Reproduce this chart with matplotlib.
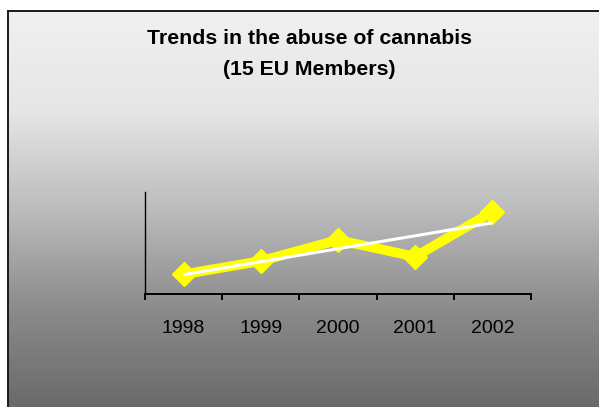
import numpy as np
import matplotlib
matplotlib.use("Agg")
import matplotlib.pyplot as plt
from matplotlib.colors import LinearSegmentedColormap
from matplotlib.lines import Line2D

# ---- data ----
years = ["1998", "1999", "2000", "2001", "2002"]
abuse = [1.92, 3.22, 5.27, 3.64, 8.03]
title_line1 = "Trends in the abuse of cannabis"
title_line2 = "(15 EU Members)"

W, H = 599, 407
fig = plt.figure(figsize=(W / 100, H / 100), dpi=100)
fig.patch.set_facecolor("white")

# ---- gradient background panel ----
left_px, top_px = 8, 11
bg = fig.add_axes([left_px / W, 0, 1 - left_px / W, (H - top_px) / H])
bg.set_axis_off()
stops = [(0.0, "#f0f0f0"), (0.25, "#e6e6e6"), (0.505, "#bbbbbb"),
         (0.76, "#8a8a8a"), (1.0, "#6a6a6a")]
cmap = LinearSegmentedColormap.from_list("grad", stops)
grad = np.linspace(0, 1, 400).reshape(-1, 1)
bg.imshow(grad, aspect="auto", cmap=cmap, extent=[0, 1, 0, 1],
          origin="upper", interpolation="bilinear")
bg.set_xlim(0, 1)
bg.set_ylim(0, 1)
# border (left and top visible)
fig.add_artist(Line2D([left_px / W, left_px / W], [0, (H - top_px) / H],
                      color="#1a1a1a", lw=1.4, transform=fig.transFigure))
fig.add_artist(Line2D([left_px / W, 1], [(H - top_px) / H, (H - top_px) / H],
                      color="#1a1a1a", lw=1.4, transform=fig.transFigure))

# ---- title ----
fig.text(309.5 / W, 1 - 44.5 / H, title_line1, ha="center", va="baseline",
         fontsize=15.3, fontweight="bold", family="Liberation Sans", color="black")
fig.text(309.5 / W, 1 - 75 / H, title_line2, ha="center", va="baseline",
         fontsize=15.3, fontweight="bold", family="Liberation Sans", color="black")

# ---- main axes ----
ax_l, ax_r, ax_t, ax_b = 145, 531, 191.5, 294
ax = fig.add_axes([ax_l / W, (H - ax_b) / H, (ax_r - ax_l) / W, (ax_b - ax_t) / H])
ax.patch.set_alpha(0)
x = np.arange(len(years))
ax.plot(x, abuse, color="#ffff00", lw=7, marker="D", markersize=12.5,
        markeredgewidth=1, markeredgecolor="#ffff00", markerfacecolor="#ffff00",
        solid_joinstyle="miter", zorder=3)
coef = np.polyfit(x, abuse, 1)
ax.plot(x, np.polyval(coef, x), color="white", lw=2.2, zorder=4,
        solid_capstyle="butt")

ax.set_xlim(-0.5, len(years) - 0.5)
ax.set_ylim(0, 10)
for s in ["top", "right"]:
    ax.spines[s].set_visible(False)
ax.spines["left"].set_linewidth(1.0)
ax.spines["bottom"].set_linewidth(1.4)
ax.set_yticks([])
ax.set_xticks(np.arange(-0.5, len(years), 1.0))
ax.set_xticklabels([])
ax.tick_params(axis="x", which="major", direction="out", length=4.5, width=1.4,
               color="black")
ax.set_xticks(x, minor=True)
ax.set_xticklabels(years, minor=True, fontsize=14, family="Liberation Sans")
ax.tick_params(axis="x", which="minor", length=0, pad=19, labelcolor="black")

fig.savefig("out.png", dpi=100, facecolor=fig.get_facecolor())
